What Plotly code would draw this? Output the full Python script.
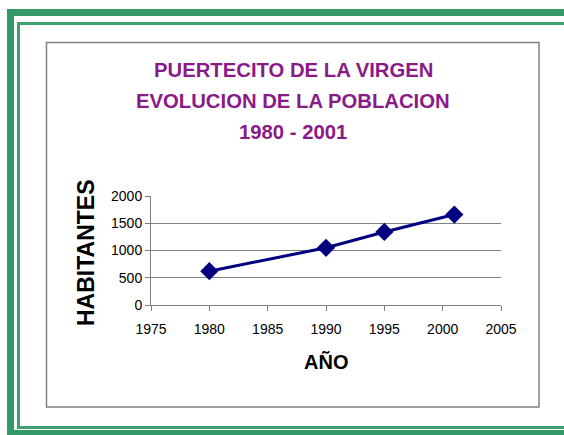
import plotly.graph_objects as go

years = [1980, 1990, 1995, 2001]
habitantes = [620, 1050, 1340, 1660]
title_lines = ["PUERTECITO DE LA VIRGEN", "EVOLUCION DE LA POBLACION", "1980 - 2001"]
x_ticks = [1975, 1980, 1985, 1990, 1995, 2000, 2005]
y_ticks = [0, 500, 1000, 1500, 2000]

W, H = 564, 435
L, R, T, B = 151, 63, 196, 130
PW, PH = W - L - R, H - T - B
FONT = "Liberation Sans, Arial, sans-serif"


def px(x):
    return (x - L) / PW


def py(y):
    return (H - B - y) / PH


fig = go.Figure()
fig.add_trace(go.Scatter(
    x=years, y=habitantes, mode="lines+markers",
    line=dict(color="#000080", width=3),
    marker=dict(symbol="diamond", size=14, color="#000080"),
    showlegend=False,
))

shapes = []
# thick green outer frame
shapes.append(dict(type="rect", xref="paper", yref="paper",
                   x0=px(10.5), x1=px(600), y0=py(12.5), y1=py(433.5),
                   line=dict(color="#339966", width=7), layer="below"))
# thin green inner frame
shapes.append(dict(type="rect", xref="paper", yref="paper",
                   x0=px(18.5), x1=px(600), y0=py(23.5), y1=py(427.5),
                   line=dict(color="#3CA070", width=3), layer="below"))
# gray chart-area border
shapes.append(dict(type="rect", xref="paper", yref="paper",
                   x0=px(46.5), x1=px(539), y0=py(42.5), y1=py(407),
                   line=dict(color="#808080", width=1.5), layer="below"))

annotations = []
for text, yc in zip(title_lines, [70, 101, 132]):
    annotations.append(dict(text="<b>" + text + "</b>", xref="paper", yref="paper",
                            x=px(293), y=py(yc), xanchor="center", yanchor="middle",
                            showarrow=False,
                            font=dict(family=FONT, size=20.3, color="#8B1A89")))
annotations.append(dict(text="<b>HABITANTES</b>", xref="paper", yref="paper",
                        x=px(86), y=py(253), xanchor="center", yanchor="middle",
                        textangle=-90, showarrow=False,
                        font=dict(family=FONT, size=23, color="black")))
annotations.append(dict(text="<b>AÑO</b>", xref="paper", yref="paper",
                        x=px(326), y=py(362), xanchor="center", yanchor="middle",
                        showarrow=False,
                        font=dict(family=FONT, size=20, color="black")))

fig.update_layout(
    width=W, height=H,
    margin=dict(l=L, r=R, t=T, b=B),
    paper_bgcolor="white", plot_bgcolor="white",
    shapes=shapes, annotations=annotations,
    font=dict(family=FONT, size=14, color="black"),
)
fig.update_xaxes(range=[1975, 2005], tickvals=x_ticks, ticktext=[str(v) for v in x_ticks],
                 showgrid=False, zeroline=False, showline=True, linecolor="#808080",
                 linewidth=1, ticks="outside", ticklen=5, tickcolor="#808080",
                 ticklabelstandoff=6,
                 tickfont=dict(family=FONT, size=14, color="black"))
fig.update_yaxes(range=[0, 2000], tickvals=y_ticks, ticktext=[str(v) for v in y_ticks],
                 showgrid=True, gridcolor="#808080", gridwidth=1, zeroline=False,
                 showline=True, linecolor="#808080", linewidth=1, ticks="outside",
                 ticklen=5, tickcolor="#808080",
                 tickfont=dict(family=FONT, size=14, color="black"))

fig.write_html("out.html", config={"displayModeBar": False},
               post_script="document.body.style.margin='0';document.body.style.overflow='hidden';")
